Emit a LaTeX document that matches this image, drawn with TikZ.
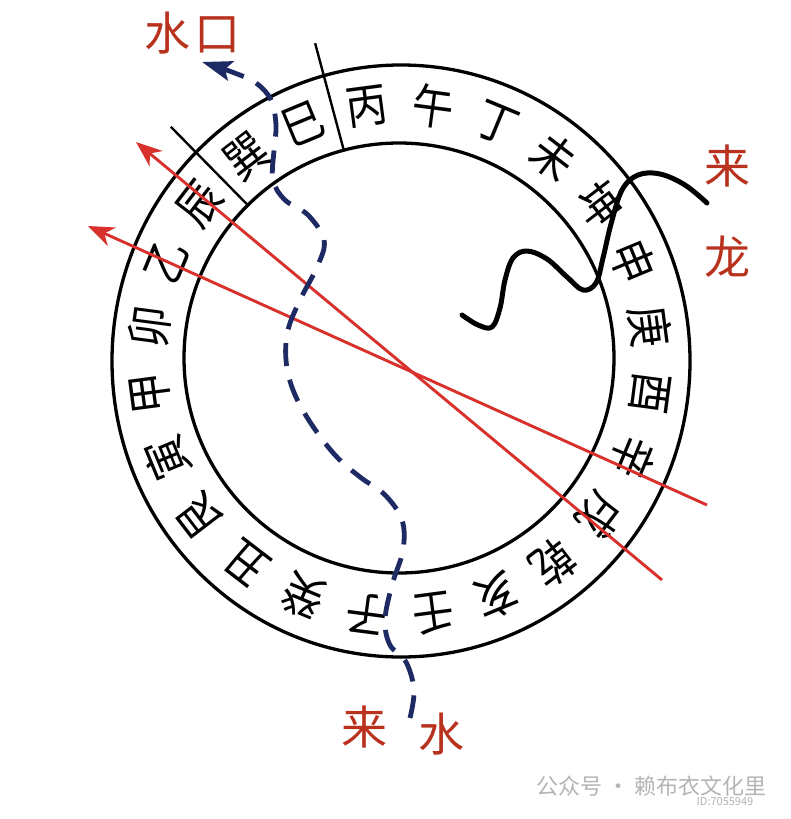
\documentclass[tikz,border=0pt]{standalone}
\usepackage{fontspec}
\setmainfont{Noto Sans CJK SC}
\usetikzlibrary{arrows.meta}
\definecolor{ringred}{HTML}{D8312B}
\definecolor{labelred}{HTML}{B8321E}
\definecolor{navy}{HTML}{1E2A63}
\definecolor{wmgray}{HTML}{B4B4B4}
\begin{document}
\begin{tikzpicture}[x=1pt,y=-1pt,
  ringline/.style={line width=3.3pt, black},
  mnt/.style={font=\fontsize{47}{47}\selectfont, inner sep=0pt},
  lbl/.style={font=\fontsize{46}{46}\selectfont, text=labelred, inner sep=0pt},
  redarrow/.style={line width=2.9pt, ringred, -{Stealth[length=26pt,width=20pt,inset=8pt]}},
  water/.style={line width=4.8pt, navy, dash pattern=on 23pt off 14pt, -{Stealth[length=30pt,width=20pt,inset=6pt]}},
  dragon/.style={line width=5pt, black, line cap=round, line join=round},
  wm/.style={text=wmgray, inner sep=0pt}]
\useasboundingbox (0,0) rectangle (790,819);
\fill[white] (0,0) rectangle (790,819);

% ring
\draw[ringline] (399,358) circle [radius=215];
\draw[ringline] (401,361) ellipse [x radius=289, y radius=296];

% 24 mountains
\foreach \c [count=\i from 0] in {午,丁,未,坤,申,庚,酉,辛,戌,乾,亥,壬,子,癸,丑,艮,寅,甲,卯,乙,辰,巽,巳,丙}{
  \pgfmathsetmacro\a{82.5-15*\i}
  \node[mnt, rotate=\a-90, xscale=0.88] (m\i) at ({400+252*cos(\a)}, {360-256*sin(\a)}) {\c};
}

% dividers
\coordinate (d1a) at ({400+216*cos(105)}, {360-216*sin(105)});
\coordinate (d1b) at ({400+328*cos(105)}, {360-328*sin(105)});
\coordinate (d2a) at ({400+216*cos(134.5)}, {360-216*sin(134.5)});
\coordinate (d2b) at ({400+327*cos(134.5)}, {360-327*sin(134.5)});
\draw[line width=2.4pt] (d1a) -- (d1b);
\draw[line width=2.4pt] (d2a) -- (d2b);

% red lines
\coordinate (ra0) at (707,505);
\coordinate (ra1) at (88,226);
\coordinate (rb0) at (662,580);
\coordinate (rb1) at (136,142);
\draw[redarrow] (ra0) -- (ra1);
\draw[redarrow] (rb0) -- (rb1);

% incoming dragon
\draw[dragon] plot[smooth, tension=0.6] coordinates {(462,315) (478,325) (492,327) (500,308) (505,280) (513,258) (527,251) (547,259) (567,277) (583,290) (596,283) (603,258) (611,224) (622,190) (638,175) (660,174) (685,185) (707,203)};

% water path
\draw[water] plot[smooth, tension=0.6] coordinates {(410,718) (414,690) (406,662) (390,645) (385,620) (392,585) (403,550) (402,520) (385,495) (360,477) (335,455) (310,422) (293,390) (286,360) (288,330) (300,300) (318,265) (324,240) (308,215) (285,200) (273,180) (274,150) (276,125) (271,100) (256,83) (232,72) (202,62)};

% labels
\node[lbl] (sk1) at (167,33) {水};
\node[lbl] (sk2) at (217,35) {口};
\node[lbl] (ll1) at (727,166) {来};
\node[lbl] (ll2) at (727,257) {龙};
\node[lbl] (ls1) at (364,727) {来};
\node[lbl] (ls2) at (441,734) {水};

% watermark
\node[wm, font=\fontsize{22}{22}\selectfont, anchor=west] (wm1) at (536,786) {公众号 · 赖布衣文化里};
\node[wm, font=\fontsize{11}{11}\selectfont] (wm2) at (725,802) {ID:7055949};
\end{tikzpicture}
\end{document}
